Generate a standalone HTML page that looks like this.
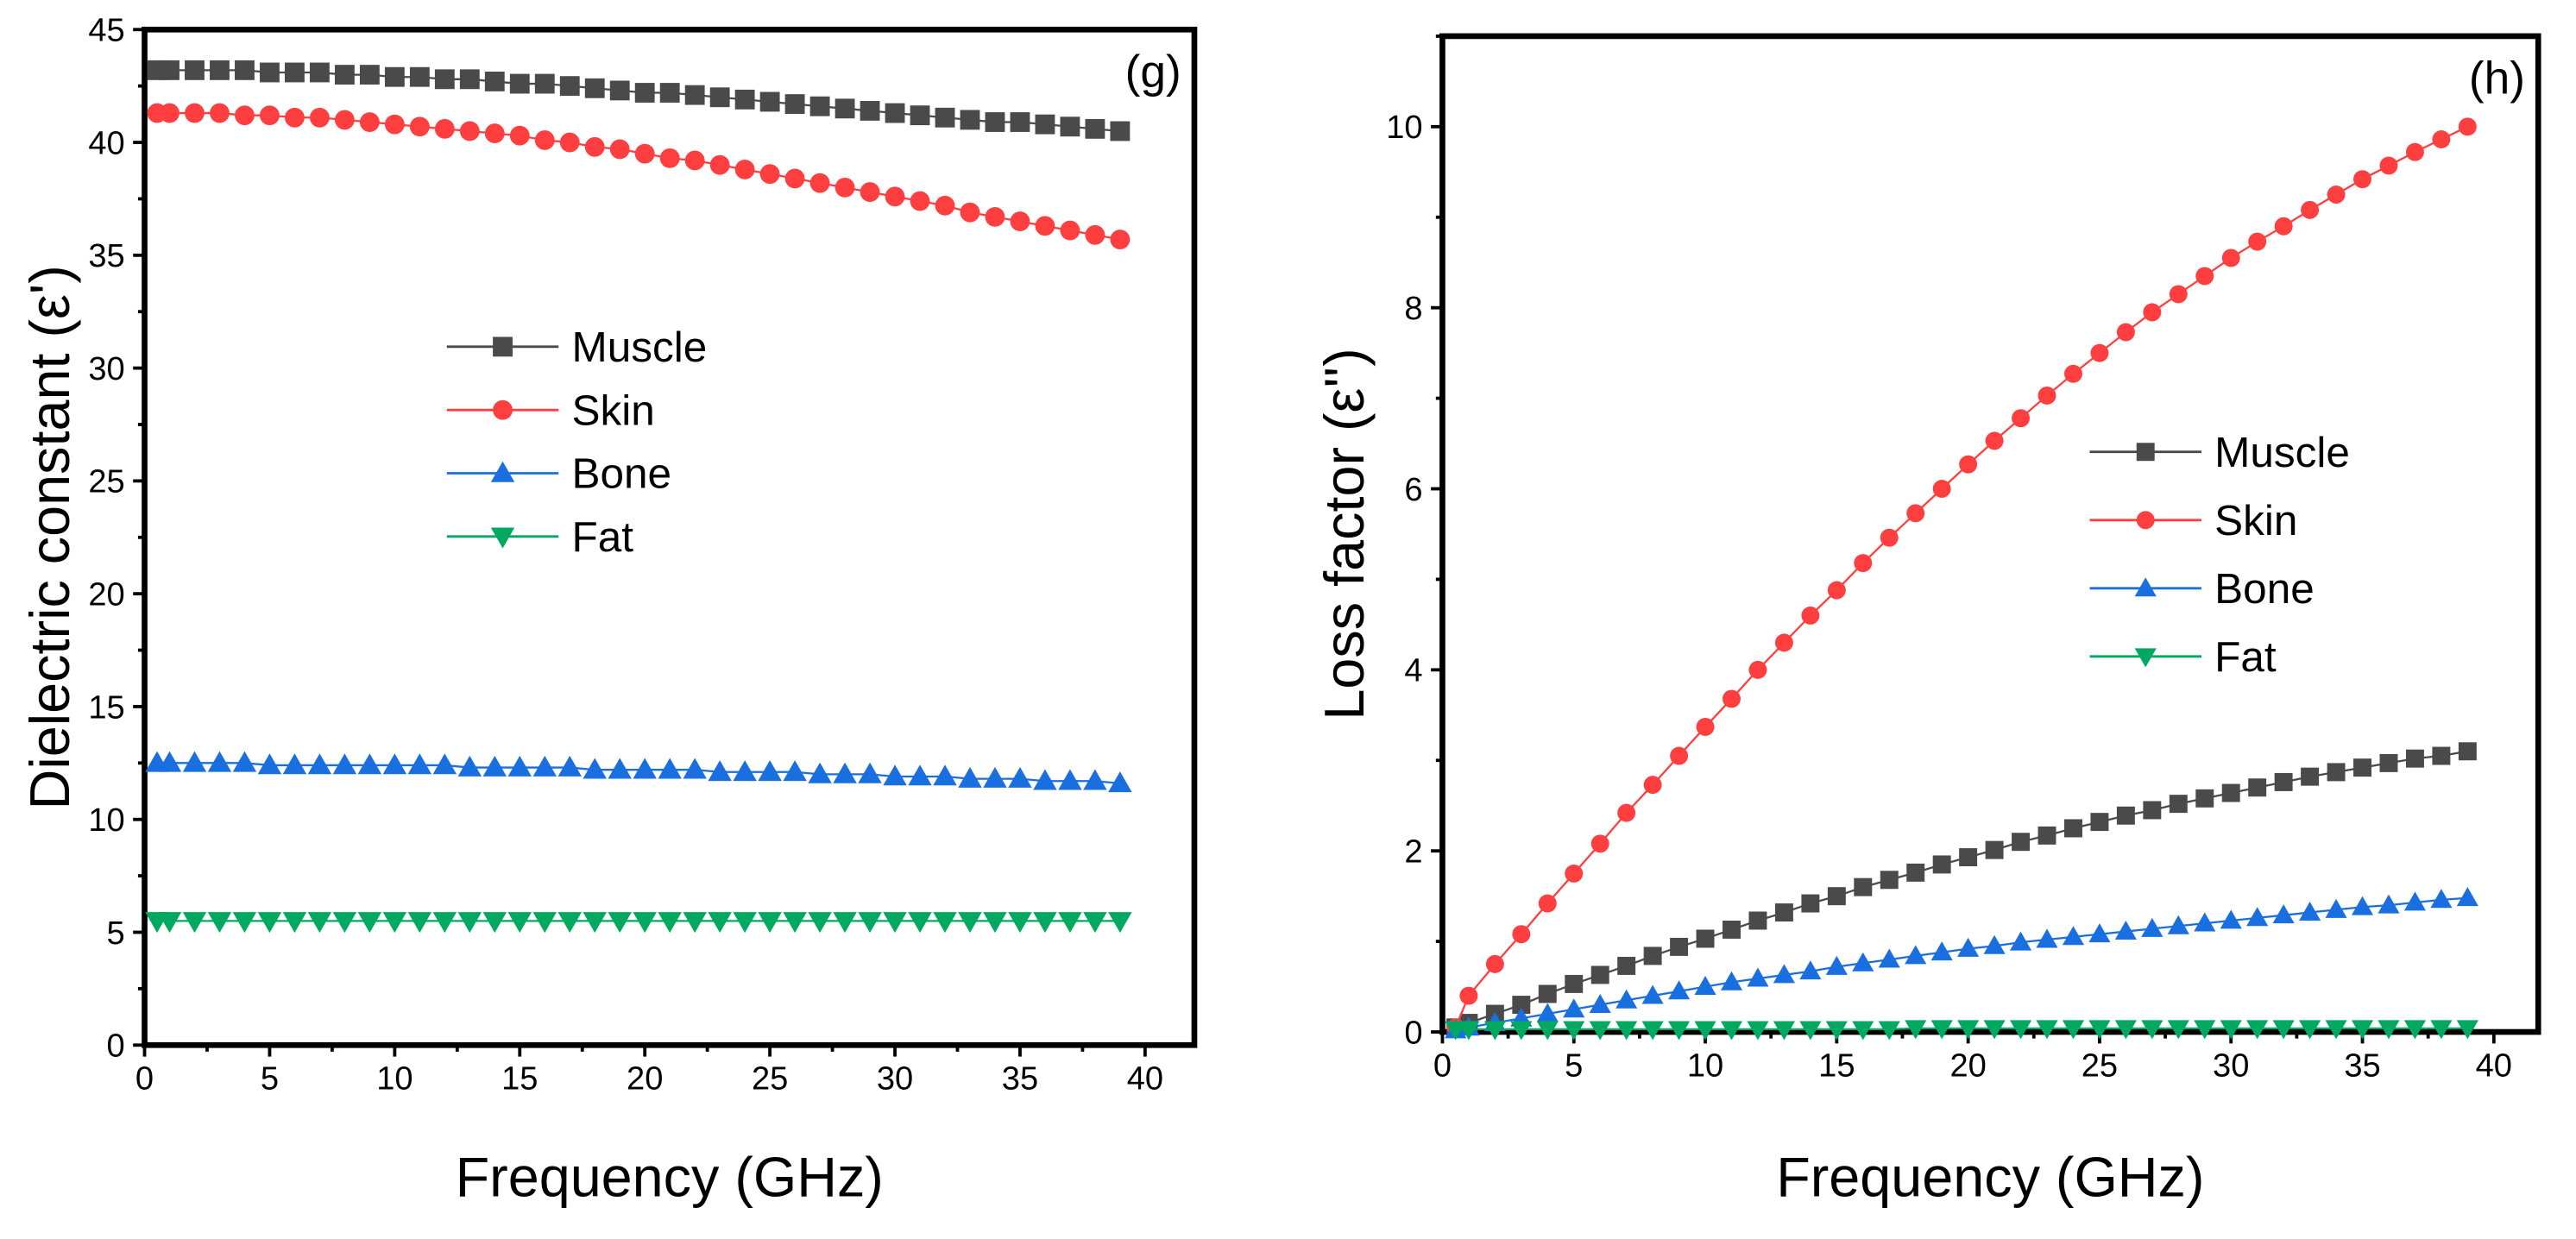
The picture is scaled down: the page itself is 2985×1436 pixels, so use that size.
<!DOCTYPE html>
<html><head><meta charset="utf-8"><style>
html,body{margin:0;padding:0;background:#fff}
svg{display:block;font-family:"Liberation Sans",Arial,sans-serif}
</style></head><body>
<svg id="fig" width="2985" height="1436" viewBox="0 0 1568 754" preserveAspectRatio="none" xmlns="http://www.w3.org/2000/svg">
<g id="g1"></g>
<g id="g2"></g>
</svg>
<script>
const freq=[0.5,1,2,3,4,5,6,7,8,9,10,11,12,13,14,15,16,17,18,19,20,21,22,23,24,25,26,27,28,29,30,31,32,33,34,35,36,37,38,39];
const epsMuscle=[43.2,43.2,43.2,43.2,43.2,43.1,43.1,43.1,43.0,43.0,42.9,42.9,42.8,42.8,42.7,42.6,42.6,42.5,42.4,42.3,42.2,42.2,42.1,42.0,41.9,41.8,41.7,41.6,41.5,41.4,41.3,41.2,41.1,41.0,40.9,40.9,40.8,40.7,40.6,40.5];
const epsSkin=[41.3,41.3,41.3,41.3,41.2,41.2,41.1,41.1,41.0,40.9,40.8,40.7,40.6,40.5,40.4,40.3,40.1,40.0,39.8,39.7,39.5,39.3,39.2,39.0,38.8,38.6,38.4,38.2,38.0,37.8,37.6,37.4,37.2,36.9,36.7,36.5,36.3,36.1,35.9,35.7];
const epsBone=[12.5,12.5,12.5,12.5,12.5,12.4,12.4,12.4,12.4,12.4,12.4,12.4,12.4,12.3,12.3,12.3,12.3,12.3,12.2,12.2,12.2,12.2,12.2,12.1,12.1,12.1,12.1,12.0,12.0,12.0,11.9,11.9,11.9,11.8,11.8,11.8,11.7,11.7,11.7,11.6];
const epsFat=[5.5,5.5,5.5,5.5,5.5,5.5,5.5,5.5,5.5,5.5,5.5,5.5,5.5,5.5,5.5,5.5,5.5,5.5,5.5,5.5,5.5,5.5,5.5,5.5,5.5,5.5,5.5,5.5,5.5,5.5,5.5,5.5,5.5,5.5,5.5,5.5,5.5,5.5,5.5,5.5];
const lossMuscle=[0.05,0.1,0.2,0.3,0.42,0.53,0.63,0.73,0.84,0.94,1.03,1.13,1.23,1.32,1.42,1.5,1.6,1.68,1.76,1.85,1.93,2.01,2.1,2.17,2.25,2.32,2.39,2.45,2.52,2.58,2.64,2.7,2.76,2.82,2.87,2.92,2.97,3.02,3.05,3.1];
const lossSkin=[0.05,0.4,0.75,1.08,1.42,1.75,2.08,2.42,2.73,3.05,3.37,3.68,4.0,4.3,4.6,4.88,5.18,5.46,5.73,6.0,6.27,6.53,6.78,7.03,7.27,7.5,7.73,7.95,8.15,8.35,8.55,8.73,8.9,9.08,9.25,9.42,9.57,9.72,9.86,10.0];
const lossBone=[0.02,0.05,0.1,0.15,0.2,0.25,0.3,0.35,0.4,0.45,0.5,0.55,0.59,0.63,0.67,0.72,0.76,0.8,0.84,0.88,0.92,0.95,0.99,1.02,1.05,1.08,1.11,1.14,1.17,1.2,1.23,1.26,1.29,1.32,1.35,1.38,1.4,1.43,1.46,1.48];
const lossFat=[0.03,0.03,0.03,0.03,0.03,0.03,0.03,0.03,0.03,0.03,0.03,0.03,0.03,0.03,0.03,0.03,0.03,0.03,0.04,0.04,0.04,0.04,0.04,0.04,0.04,0.04,0.04,0.04,0.04,0.04,0.04,0.04,0.04,0.04,0.04,0.04,0.04,0.04,0.04,0.04];
const xTicks=[0,5,10,15,20,25,30,35,40];
const yTicks1=[0,5,10,15,20,25,30,35,40,45];
const yTicks2=[0,2,4,6,8,10];
const seriesNames=["Muscle","Skin","Bone","Fat"];

const NS="http://www.w3.org/2000/svg";
function mk(p,t,a){const e=document.createElementNS(NS,t);for(const k in a)e.setAttribute(k,a[k]);p.appendChild(e);return e;}
const colors={Muscle:"#4a4a4a",Skin:"#ff3f3f",Bone:"#1a6fe0",Fat:"#00a860"};
const shapes={Muscle:"sq",Skin:"ci",Bone:"up",Fat:"dn"};
function marker(p,shape,x,y,s,c){
  let e;
  if(shape==="sq")e=mk(p,"rect",{x:x-s/2,y:y-s/2,width:s,height:s,fill:c});
  else if(shape==="ci")e=mk(p,"circle",{cx:x,cy:y,r:s/2,fill:c});
  else if(shape==="up")e=mk(p,"polygon",{points:`${x},${y-s*0.6} ${x-s*0.6},${y+s*0.45} ${x+s*0.6},${y+s*0.45}`,fill:c});
  else e=mk(p,"polygon",{points:`${x},${y+s*0.6} ${x-s*0.6},${y-s*0.45} ${x+s*0.6},${y-s*0.45}`,fill:c});
  return e;
}
function chart(g,cfg){
  const {L,R,T,B,xmax,ymax,x40,yTicks,yMinor,data,ms,tag,leg,ylx,ylab}=cfg;
  const sx=v=>L+(x40-L)*v/40, sy=v=>B-(B-T)*v/ymax;
  const fr=mk(g,"rect",{x:L,y:T,width:R-L,height:B-T,fill:"none",stroke:"#000","stroke-width":3.5});
  
  
  for(let v=0;v<=xmax+0.01;v+=2.5){const maj=v%5===0;const x=sx(v);if(x>R)continue;
    const t=mk(g,"line",{x1:x,x2:x,y1:B,y2:B+(maj?7:4),stroke:"#000","stroke-width":2});
    
    }
  xTicks.forEach(v=>{const t=mk(g,"text",{x:sx(v),y:B+27,"font-size":20,"text-anchor":"middle"});t.textContent=v;
    
    });
  for(let v=0;v<=ymax+0.001;v+=yMinor){const maj=Math.abs(v/(yMinor*2)-Math.round(v/(yMinor*2)))<1e-6;const y=sy(v);
    const t=mk(g,"line",{x1:L,x2:L-(maj?7:4),y1:y,y2:y,stroke:"#000","stroke-width":2});
    
    }
  yTicks.forEach(v=>{const t=mk(g,"text",{x:L-12,y:sy(v)+7,"font-size":20,"text-anchor":"end"});t.textContent=v;
    
    });
  seriesNames.forEach((n,i)=>{
    const s=mk(g,"g",{});
    
    
    const vals=data[i];
    mk(s,"polyline",{points:freq.map((f,j)=>sx(f)+","+sy(vals[j])).join(" "),fill:"none",stroke:colors[n],"stroke-width":1.2});
    freq.forEach((f,j)=>{const m=marker(s,shapes[n],sx(f),sy(vals[j]),ms,colors[n]);
      
      });
    const lg=mk(g,"g",{});
    
    
    const y=leg.y0+i*leg.dy;
    mk(lg,"line",{x1:leg.x,x2:leg.x+68,y1:y,y2:y,stroke:colors[n],"stroke-width":1.5});
    marker(lg,shapes[n],leg.x+34,y,ms,colors[n]);
    const t=mk(lg,"text",{x:leg.x+76,y:y+9,"font-size":26});t.textContent=n;
  });
  const tg=mk(g,"text",{x:R-8,y:T+35,"font-size":28,"text-anchor":"end"});tg.textContent=tag;
  
  
  const xl=mk(g,"text",{x:(L+R)/2,y:728,"font-size":34,"text-anchor":"middle"});xl.textContent="Frequency (GHz)";
  
  
  const yl=mk(g,"text",{x:0,y:0,"font-size":34,"text-anchor":"middle",transform:`translate(${ylx},${(T+B)/2}) rotate(-90)`});yl.textContent=ylab;
  
  
}
chart(document.getElementById("g1"),{L:88,R:727,T:18,B:636,xmax:42,ymax:45,x40:697,yTicks:yTicks1,yMinor:2.5,
  data:[epsMuscle,epsSkin,epsBone,epsFat],ms:12,tag:"(g)",leg:{x:272,y0:211,dy:38.5},ylx:42,ylab:"Dielectric constant (ε')"});
chart(document.getElementById("g2"),{L:878,R:1545,T:22,B:628,xmax:42,ymax:11,x40:1518,yTicks:yTicks2,yMinor:1,
  data:[lossMuscle,lossSkin,lossBone,lossFat],ms:11,tag:"(h)",leg:{x:1272,y0:275,dy:41.5},ylx:830,ylab:"Loss factor (ε'')"});
</script>
</body></html>
